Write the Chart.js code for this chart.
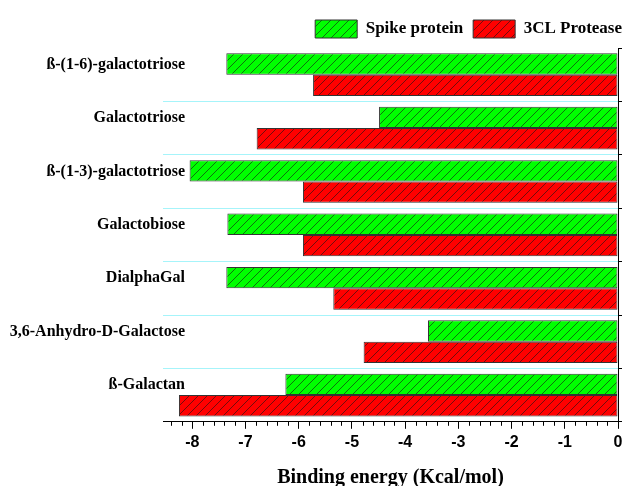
<!DOCTYPE html>
<html>
<head>
<meta charset="utf-8">
<script src="https://cdn.jsdelivr.net/npm/chart.js@4/dist/chart.umd.min.js"></script>
<style>
  html, body { margin: 0; padding: 0; background: #fff; overflow: hidden; }
  #wrap { width: 632px; height: 494px; position: relative; }
</style>
</head>
<body>
<div id="wrap"><canvas id="chart"></canvas></div>
<script>
// compounds, top to bottom
var compounds = [
    'ß-(1-6)-galactotriose',
    'Galactotriose',
    'ß-(1-3)-galactotriose',
    'Galactobiose',
    'DialphaGal',
    '3,6-Anhydro-D-Galactose',
    'ß-Galactan'
];
// binding energies, Kcal/mol
var spikeProtein = [-7.36, -4.49, -8.05, -7.34, -7.36, -3.57, -6.25];
var clProtease = [-5.73, -6.79, -5.92, -5.92, -5.35, -4.78, -8.25];
var seriesNames = ['Spike protein', '3CL Protease'];
var xTicks = [-8, -7, -6, -5, -4, -3, -2, -1, 0];

function makeHatch(color) {
    var size = 9;
    var c = document.createElement('canvas');
    c.width = size;
    c.height = size;
    var g = c.getContext('2d');
    g.fillStyle = color;
    g.fillRect(0, 0, size, size);
    g.strokeStyle = 'rgba(20,20,20,0.75)';
    g.lineWidth = 0.8;
    g.beginPath();
    g.moveTo(0, size);
    g.lineTo(size, 0);
    g.moveTo(-1, 1);
    g.lineTo(1, -1);
    g.moveTo(size - 1, size + 1);
    g.lineTo(size + 1, size - 1);
    g.stroke();
    return g.createPattern(c, 'repeat');
}

// small ticks every 0.2 on the x axis
var minorTicks = {
    id: 'minorTicks',
    afterDraw: function (chart) {
        var sx = chart.scales.x;
        var ctx = chart.ctx;
        var y = sx.top;
        ctx.save();
        ctx.strokeStyle = '#000';
        ctx.lineWidth = 1;
        ctx.beginPath();
        for (var i = 0; i < xTicks.length; i++) {
            for (var k = 1; k <= 4; k++) {
                var v = xTicks[i] - k * 0.2;
                if (v < sx.min) break;
                var px = Math.round(sx.getPixelForValue(v)) + 0.5;
                ctx.moveTo(px, y);
                ctx.lineTo(px, y + 4);
            }
        }
        ctx.stroke();
        ctx.restore();
    }
};

var ctx = document.getElementById('chart').getContext('2d');
var chart = new Chart(ctx, {
    type: 'bar',
    data: {
        labels: compounds,
        datasets: [
            { label: seriesNames[0], data: spikeProtein, backgroundColor: makeHatch('#00ff00'), borderColor: '#333', borderWidth: 1, borderSkipped: false },
            { label: seriesNames[1], data: clProtease, backgroundColor: makeHatch('#ff0000'), borderColor: '#333', borderWidth: 1, borderSkipped: false }
        ]
    },
    options: {
        indexAxis: 'y',
        responsive: true,
        maintainAspectRatio: false,
        animation: false,
        layout: { padding: { top: 10, left: 0, right: 0, bottom: 0 } },
        datasets: { bar: { categoryPercentage: 0.8, barPercentage: 1.0 } },
        scales: {
            x: {
                type: 'linear',
                min: -8.55,
                max: 0,
                afterBuildTicks: function (scale) {
                    scale.ticks = xTicks.map(function (v) { return { value: v }; });
                },
                ticks: {
                    color: '#000',
                    padding: 4,
                    font: { family: 'Liberation Sans', size: 16, weight: 'bold' },
                    callback: function (v) { return String(v); }
                },
                grid: { drawOnChartArea: false, tickLength: 7, tickColor: '#000' },
                border: { display: true, color: '#000', width: 1 },
                title: {
                    display: true,
                    text: 'Binding energy (Kcal/mol)',
                    color: '#000',
                    font: { family: 'Liberation Serif', size: 20, weight: 'bold' },
                    padding: { top: 10, bottom: 4 }
                }
            },
            y: {
                type: 'category',
                afterFit: function (scale) {
                    scale.width = 163;
                    // let the labels run into the plot area as in the original
                    scale._computeLabelArea = function () { return null; };
                },
                ticks: {
                    color: '#000',
                    padding: -22,
                    labelOffset: -10,
                    font: { family: 'Liberation Serif', size: 16, weight: 'bold' }
                },
                grid: {
                    offset: true,
                    drawTicks: false,
                    color: function (c) { return c.index === 0 ? 'rgba(0,0,0,0)' : '#a6f4fa'; },
                    lineWidth: 1
                },
                border: { display: false }
            },
            y2: {
                type: 'category',
                position: 'right',
                labels: compounds,
                afterFit: function (scale) { scale.width = 14; },
                ticks: { display: false },
                grid: { offset: true, drawOnChartArea: false, tickLength: 4, tickColor: '#000' },
                border: { display: true, color: '#000', width: 1 }
            }
        },
        plugins: {
            legend: {
                position: 'top',
                align: 'end',
                labels: {
                    boxWidth: 42,
                    boxHeight: 18,
                    padding: 10,
                    color: '#000',
                    font: { family: 'Liberation Serif', size: 17, weight: 'bold' }
                }
            },
            tooltip: { enabled: false }
        }
    },
    plugins: [minorTicks]
});
</script>
</body>
</html>
